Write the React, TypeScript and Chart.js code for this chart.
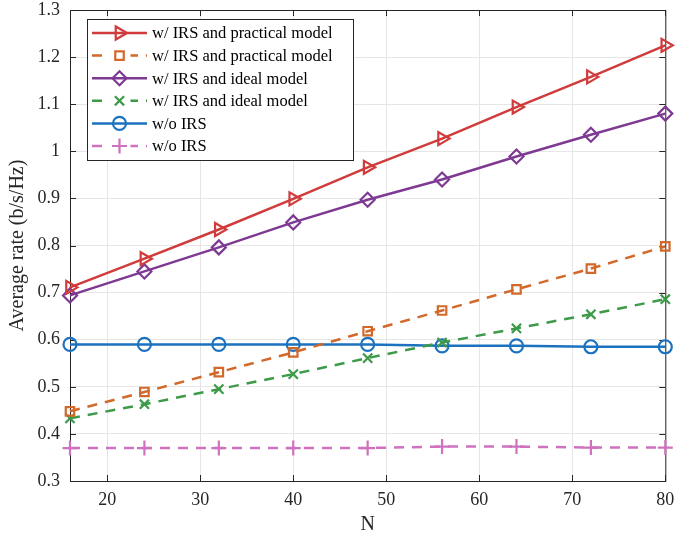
import React, { useEffect, useRef } from "react";
import { Chart, registerables } from "chart.js";

Chart.register(...registerables);

const N = [16, 24, 32, 40, 48, 56, 64, 72, 80];
const xTicks = [20, 30, 40, 50, 60, 70, 80];
const practicalSolid = [0.711, 0.772, 0.834, 0.899, 0.966, 1.027, 1.094, 1.158, 1.225];
const practicalDashed = [0.448, 0.489, 0.531, 0.573, 0.618, 0.662, 0.707, 0.751, 0.798];
const idealSolid = [0.694, 0.745, 0.796, 0.849, 0.897, 0.940, 0.989, 1.035, 1.080];
const idealDashed = [0.433, 0.463, 0.495, 0.527, 0.561, 0.594, 0.624, 0.654, 0.686];
const noIrsSolid = [0.590, 0.590, 0.590, 0.590, 0.590, 0.587, 0.587, 0.585, 0.585];
const noIrsDashed = [0.370, 0.370, 0.370, 0.370, 0.370, 0.373, 0.373, 0.371, 0.371];
const labels = [
  "w/ IRS and practical model",
  "w/ IRS and practical model",
  "w/ IRS and ideal model",
  "w/ IRS and ideal model",
  "w/o IRS",
  "w/o IRS",
];

const FONT = "'Liberation Serif', 'Times New Roman', serif";

export default function App() {
  const ref = useRef<HTMLCanvasElement>(null);
  useEffect(() => {
    document.body.style.margin = "0";
    const mk = (i: number, data: number[], color: string, style: any, dashed: boolean, radius: number, rotation = 0) => ({
      label: labels[i],
      data: N.map((x, k) => ({ x, y: data[k] })),
      borderColor: color,
      backgroundColor: "rgba(0,0,0,0)",
      borderWidth: 2.5,
      borderDash: dashed ? [10, 8] : [],
      pointStyle: style,
      pointRadius: radius,
      pointRotation: rotation,
      pointBorderWidth: 2.2,
      pointBorderColor: color,
      pointBackgroundColor: "rgba(0,0,0,0)",
      tension: 0,
      fill: false,
      clip: false,
    });
    const datasets = [
      mk(0, practicalSolid, "#D03B3B", "triangle", false, 7.5, 90),
      mk(1, practicalDashed, "#D2692B", "rect", true, 6),
      mk(2, idealSolid, "#7E3A92", "rectRot", false, 7),
      mk(3, idealDashed, "#3C9A48", "crossRot", true, 6.5),
      mk(4, noIrsSolid, "#1C72BE", "circle", false, 6.5),
      mk(5, noIrsDashed, "#CF71BE", "cross", true, 7.5),
    ];

    function drawPoint(ctx: CanvasRenderingContext2D, style: string, r: number, rot: number, x: number, y: number, color: string, lw: number, clear: boolean) {
      ctx.save();
      if (clear) {
        ctx.fillStyle = "#ffffff";
        ctx.fillRect(x - 11, y - 4, 22, 8);
      }
      ctx.strokeStyle = color;
      ctx.lineWidth = lw;
      ctx.translate(x, y);
      ctx.rotate((rot * Math.PI) / 180);
      ctx.beginPath();
      if (style === "triangle") {
        ctx.moveTo(0, -r);
        ctx.lineTo(r * 0.866, r * 0.5);
        ctx.lineTo(-r * 0.866, r * 0.5);
        ctx.closePath();
      } else if (style === "rect") {
        ctx.rect(-r * 0.707, -r * 0.707, r * 1.414, r * 1.414);
      } else if (style === "rectRot") {
        ctx.moveTo(0, -r);
        ctx.lineTo(r, 0);
        ctx.lineTo(0, r);
        ctx.lineTo(-r, 0);
        ctx.closePath();
      } else if (style === "crossRot") {
        const d = r * 0.707;
        ctx.moveTo(-d, -d);
        ctx.lineTo(d, d);
        ctx.moveTo(d, -d);
        ctx.lineTo(-d, d);
      } else if (style === "cross") {
        ctx.moveTo(0, -r);
        ctx.lineTo(0, r);
        ctx.moveTo(-r, 0);
        ctx.lineTo(r, 0);
      } else if (style === "circle") {
        ctx.arc(0, 0, r, 0, Math.PI * 2);
      }
      ctx.stroke();
      ctx.restore();
    }

    const boxPlugin = {
      id: "boxPlugin",
      beforeDatasetsDraw(chart: any) {
        const { ctx, chartArea: a, scales } = chart;
        ctx.save();
        ctx.strokeStyle = "#262626";
        ctx.lineWidth = 1;
        ctx.strokeRect(a.left + 0.5, a.top + 0.5, a.right - a.left, a.bottom - a.top);
        const tl = 6;
        ctx.beginPath();
        xTicks.forEach((v) => {
          const x = Math.round(scales.x.getPixelForValue(v)) + 0.5;
          ctx.moveTo(x, a.bottom);
          ctx.lineTo(x, a.bottom - tl);
          ctx.moveTo(x, a.top);
          ctx.lineTo(x, a.top + tl);
        });
        for (let k = 0; k <= 10; k++) {
          const y = Math.round(scales.y.getPixelForValue(0.3 + k * 0.1)) + 0.5;
          ctx.moveTo(a.left, y);
          ctx.lineTo(a.left + tl, y);
          ctx.moveTo(a.right, y);
          ctx.lineTo(a.right - tl, y);
        }
        ctx.stroke();
        ctx.restore();
      },
      afterDraw(chart: any) {
        const { ctx, chartArea: a } = chart;
        const bx = a.left + 17, by = a.top + 9, bw = 266, bh = 141;
        ctx.save();
        ctx.fillStyle = "#ffffff";
        ctx.fillRect(bx, by, bw, bh);
        ctx.strokeStyle = "#262626";
        ctx.lineWidth = 1;
        ctx.strokeRect(bx + 0.5, by + 0.5, bw, bh);
        ctx.font = `16.5px ${FONT}`;
        ctx.textBaseline = "middle";
        chart.data.datasets.forEach((ds: any, i: number) => {
          const y = by + 14 + i * 22.6;
          ctx.strokeStyle = ds.borderColor;
          ctx.lineWidth = ds.borderWidth;
          ctx.setLineDash(ds.borderDash);
          ctx.beginPath();
          ctx.moveTo(bx + 5, y);
          ctx.lineTo(bx + 60, y);
          ctx.stroke();
          ctx.setLineDash([]);
          drawPoint(ctx, ds.pointStyle, ds.pointRadius, ds.pointRotation, bx + 32.5, y, ds.borderColor, ds.pointBorderWidth, ds.borderDash.length > 0);
          ctx.fillStyle = "#000000";
          ctx.fillText(ds.label, bx + 65, y + 1);
        });
        ctx.restore();
      },
    };

    const chart = new Chart(ref.current!, {
      type: "line",
      data: { datasets: datasets as any },
      plugins: [boxPlugin],
      options: {
        animation: false,
        responsive: false,
        layout: { padding: { left: 0, right: 7, top: 10, bottom: 0 } },
        plugins: { legend: { display: false }, tooltip: { enabled: false } },
        scales: {
          x: {
            type: "linear",
            min: 16,
            max: 80,
            afterBuildTicks: (s: any) => {
              s.ticks = xTicks.map((v) => ({ value: v }));
            },
            afterFit: (s: any) => {
              s.height = 61;
              s.paddingLeft = 0;
              s.paddingRight = 0;
            },
            grid: { color: "#e6e6e6", drawTicks: false, lineWidth: 1 },
            border: { display: false },
            ticks: { color: "#262626", font: { family: FONT, size: 18 }, padding: 8, maxRotation: 0 },
            title: { display: true, text: "N", color: "#262626", font: { family: FONT, size: 20 }, padding: { top: 0, bottom: 5 } },
          },
          y: {
            type: "linear",
            min: 0.3,
            max: 1.3,
            ticks: {
              stepSize: 0.1,
              color: "#262626",
              font: { family: FONT, size: 18 },
              padding: 10,
              callback: (v: any) => String(Number(Number(v).toFixed(1))),
            },
            afterFit: (s: any) => {
              s.width = 70;
              s.paddingTop = 0;
              s.paddingBottom = 0;
            },
            grid: { color: "#e6e6e6", drawTicks: false, lineWidth: 1 },
            border: { display: false },
            title: { display: true, text: "Average rate (b/s/Hz)", color: "#262626", font: { family: FONT, size: 20 }, padding: { top: 6, bottom: 0 } },
          },
        },
      },
    });
    return () => chart.destroy();
  }, []);
  return (
    <div style={{ width: 675, height: 542 }}>
      <canvas ref={ref} width={675} height={542} style={{ display: "block" }} />
    </div>
  );
}
